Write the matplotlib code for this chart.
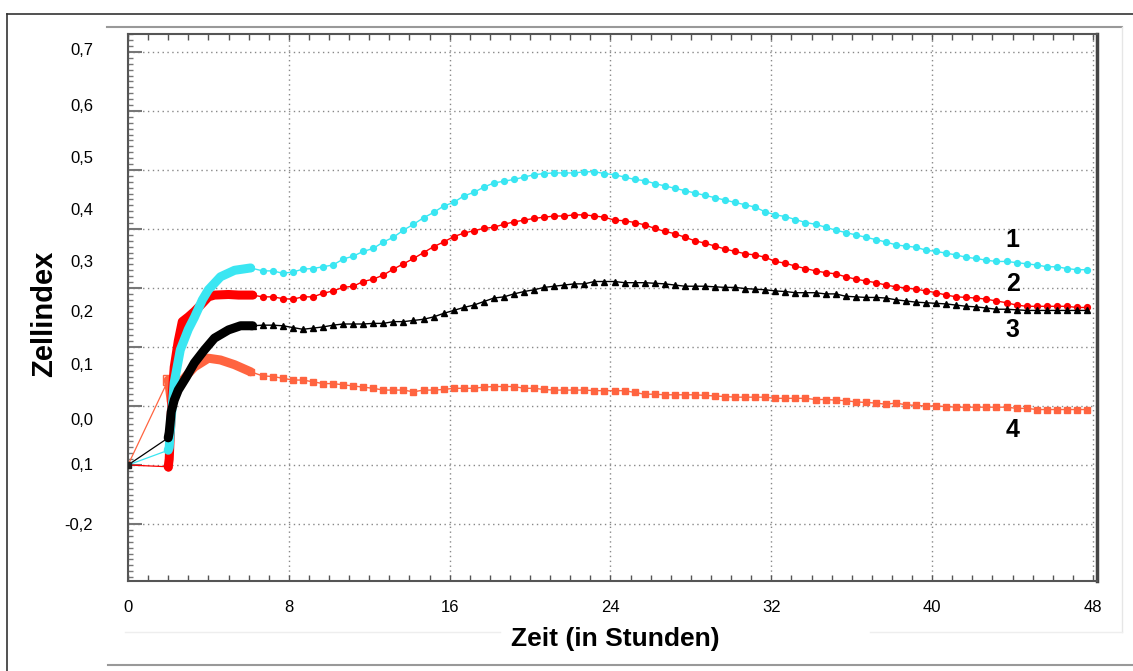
import numpy as np
import matplotlib.pyplot as plt
from matplotlib.lines import Line2D
from matplotlib.ticker import MultipleLocator

plt.rcParams['font.family'] = ['Liberation Sans', 'DejaVu Sans']

# Messpunkte t=0 und t=2 h (vor dem Zugeben)
start_t = [0.0, 2.0]
start_1 = [-0.100, -0.075]
start_2 = [-0.100, -0.103]
start_3 = [-0.100, -0.054]
start_4 = [-0.100, 0.044]

# dichte Messung direkt nach dem Zugeben (2 - 6 h)
dense_t_1 = [2.05, 2.15, 2.3, 2.6, 3.0, 3.3, 3.7, 4.0, 4.6, 5.3, 6.1]
dense_1 = [-0.070, -0.020, 0.040, 0.095, 0.130, 0.150, 0.180, 0.197, 0.219, 0.230, 0.234]
dense_t_2 = [2.05, 2.1, 2.2, 2.3, 2.5, 2.7, 3.0, 3.3, 3.7, 4.0, 4.3, 5.0, 5.5, 6.2]
dense_2 = [-0.090, -0.050, 0.020, 0.066, 0.110, 0.143, 0.151, 0.160, 0.174, 0.185, 0.188, 0.189, 0.188, 0.188]
dense_t_3 = [2.05, 2.15, 2.3, 2.5, 2.9, 3.3, 3.8, 4.3, 5.0, 5.6, 6.2]
dense_3 = [-0.045, -0.010, 0.010, 0.027, 0.049, 0.073, 0.095, 0.115, 0.129, 0.136, 0.136]
dense_t_4 = [2.05, 2.15, 2.3, 2.6, 3.0, 3.3, 4.0, 4.6, 5.3, 6.1]
dense_4 = [0.035, 0.008, 0.020, 0.039, 0.055, 0.066, 0.081, 0.078, 0.070, 0.058]

# Messung alle 30 min (6.7 - 47.7 h)
hours = np.arange(6.7, 47.75, 0.5)
zi_1 = [0.229, 0.229, 0.225, 0.227, 0.232, 0.233, 0.236, 0.239, 0.249, 0.254,
        0.262, 0.267, 0.278, 0.286, 0.298, 0.308, 0.319, 0.328, 0.339, 0.345,
        0.356, 0.362, 0.371, 0.378, 0.381, 0.384, 0.388, 0.392, 0.394, 0.395,
        0.395, 0.395, 0.397, 0.397, 0.394, 0.392, 0.388, 0.384, 0.382, 0.377,
        0.373, 0.369, 0.365, 0.361, 0.357, 0.353, 0.349, 0.345, 0.341, 0.337,
        0.329, 0.324, 0.321, 0.316, 0.311, 0.308, 0.303, 0.298, 0.294, 0.290,
        0.286, 0.282, 0.278, 0.273, 0.271, 0.269, 0.264, 0.262, 0.259, 0.256,
        0.252, 0.250, 0.247, 0.245, 0.245, 0.243, 0.241, 0.239, 0.236, 0.236,
        0.233, 0.231, 0.231]
zi_2 = [0.185, 0.185, 0.182, 0.181, 0.185, 0.185, 0.191, 0.195, 0.201, 0.203,
        0.211, 0.215, 0.222, 0.232, 0.241, 0.250, 0.260, 0.270, 0.278, 0.287,
        0.293, 0.297, 0.301, 0.303, 0.308, 0.312, 0.315, 0.318, 0.320, 0.322,
        0.322, 0.324, 0.324, 0.322, 0.320, 0.315, 0.314, 0.311, 0.307, 0.301,
        0.296, 0.292, 0.286, 0.280, 0.276, 0.271, 0.266, 0.262, 0.258, 0.256,
        0.252, 0.245, 0.242, 0.237, 0.233, 0.229, 0.226, 0.224, 0.219, 0.215,
        0.212, 0.209, 0.205, 0.202, 0.200, 0.198, 0.195, 0.192, 0.188, 0.185,
        0.184, 0.183, 0.181, 0.178, 0.175, 0.171, 0.169, 0.169, 0.169, 0.169,
        0.169, 0.167, 0.167]
zi_3 = [0.137, 0.137, 0.136, 0.133, 0.130, 0.132, 0.134, 0.137, 0.139, 0.139,
        0.139, 0.140, 0.140, 0.143, 0.143, 0.145, 0.147, 0.151, 0.157, 0.162,
        0.167, 0.171, 0.177, 0.183, 0.185, 0.190, 0.194, 0.197, 0.201, 0.203,
        0.205, 0.207, 0.207, 0.211, 0.211, 0.211, 0.209, 0.209, 0.209, 0.208,
        0.207, 0.205, 0.203, 0.203, 0.203, 0.202, 0.201, 0.201, 0.199, 0.198,
        0.197, 0.195, 0.194, 0.192, 0.192, 0.192, 0.190, 0.190, 0.186, 0.185,
        0.184, 0.184, 0.183, 0.180, 0.178, 0.176, 0.175, 0.174, 0.173, 0.171,
        0.169, 0.168, 0.166, 0.164, 0.164, 0.163, 0.162, 0.162, 0.162, 0.162,
        0.162, 0.162, 0.162]
zi_4 = [0.051, 0.050, 0.047, 0.044, 0.044, 0.041, 0.038, 0.038, 0.036, 0.034,
        0.032, 0.030, 0.027, 0.027, 0.027, 0.024, 0.027, 0.027, 0.028, 0.030,
        0.030, 0.030, 0.032, 0.033, 0.033, 0.033, 0.030, 0.030, 0.028, 0.027,
        0.027, 0.027, 0.027, 0.026, 0.026, 0.026, 0.026, 0.023, 0.020, 0.020,
        0.019, 0.019, 0.019, 0.019, 0.018, 0.017, 0.016, 0.015, 0.015, 0.015,
        0.015, 0.013, 0.013, 0.013, 0.013, 0.011, 0.011, 0.010, 0.009, 0.007,
        0.006, 0.005, 0.003, 0.005, 0.002, 0.001, 0.000, 0.000, -0.001, -0.002,
        -0.002, -0.002, -0.002, -0.002, -0.002, -0.004, -0.004, -0.006, -0.006, -0.006,
        -0.006, -0.006, -0.006]

# Beschriftungen der y-Achse, wie sie im Original stehen
ytick_text = ['0,7', '0,6', '0,5', '0,4', '0,3', '0,2', '0,1', '0,0', '0,1', '-0,2']
ytick_pos = [0.602, 0.507, 0.420, 0.332, 0.244, 0.159, 0.068, -0.024, -0.100, -0.202]
xticks = [0, 8, 16, 24, 32, 40, 48]
curve_names = ['1', '2', '3', '4']
name_pos = [0.281, 0.207, 0.129, -0.041]

series = [
    (start_4, dense_t_4, dense_4, zi_4, '#ff6440', 's', 5.0),
    (start_2, dense_t_2, dense_2, zi_2, '#ff0000', 'o', 4.2),
    (start_1, dense_t_1, dense_1, zi_1, '#3ae6f2', 'o', 4.2),
    (start_3, dense_t_3, dense_3, zi_3, '#000000', '^', 5.0),
]

fig = plt.figure(figsize=(11.33, 6.71), dpi=100)
ax = fig.add_axes([128 / 1133, 1 - 581 / 671, 969 / 1133, 547 / 671])

for start, dt, dv, zi, col, mk, ms in series:
    ax.plot(start_t, start, color=col, lw=0.9, zorder=3)
    ax.plot(start_t[1], start[1], marker=mk, ms=7 if mk == 's' else 5,
            mfc='none', mec=col, mew=1, zorder=3)
    ax.plot([start_t[1]] + dt, [start[1]] + dv, color=col, lw=6.5,
            solid_capstyle='round', solid_joinstyle='round', zorder=4)
    ax.plot(np.concatenate([[dt[-1]], hours]), [dv[-1]] + zi, color=col, lw=1.0,
            marker=mk, ms=ms, mec=col, mfc=col, zorder=4)

ax.plot(0, -0.1, 's', color='#222222', ms=4, zorder=5)

ax.set_xlim(0, 48.2)
ax.set_ylim(-0.2966, 0.6305)
ax.set_xticks(xticks)
ax.xaxis.set_minor_locator(MultipleLocator(1))
ax.yaxis.set_major_locator(MultipleLocator(0.1))
ax.yaxis.set_minor_locator(MultipleLocator(0.01))
ax.tick_params(axis='x', which='both', direction='in', length=4, width=1,
               color='#555555', top=True, labelsize=12, pad=14)
ax.tick_params(axis='y', which='major', direction='in', length=10, width=1.5,
               color='#777777', labelleft=False)
ax.tick_params(axis='y', which='minor', direction='in', length=3.5, width=1,
               color='#777777')
ax.grid(which='major', color='#888888', linestyle=(0, (1, 2.5)), lw=1)

for side in ['left', 'bottom', 'top']:
    ax.spines[side].set_color('#555555')
    ax.spines[side].set_linewidth(1.5)
ax.spines['right'].set_color('#444444')
ax.spines['right'].set_linewidth(2.5)

trans = ax.get_yaxis_transform()
for txt, y in zip(ytick_text, ytick_pos):
    ax.text(-0.036, y, txt, transform=trans, ha='right', va='center', fontsize=12)

for txt, y in zip(curve_names, name_pos):
    ax.text(0.913, y, txt, transform=trans, ha='center', va='center',
            fontsize=18, fontweight='bold')

ax.set_xlabel('Zeit (in Stunden)', fontsize=19, fontweight='bold')
ax.xaxis.set_label_coords(0.503, -0.084)
ax.set_ylabel('Zellindex', fontsize=21, fontweight='bold')
ax.yaxis.set_label_coords(-0.072, 0.488)

# Rahmen der eingefügten Abbildung
def fig_line(x, y, col, lw):
    fig.add_artist(Line2D([v / 1133 for v in x], [1 - v / 671 for v in y],
                          color=col, lw=lw, transform=fig.transFigure))

fig_line([7, 1133], [14, 14], '#333333', 1.2)
fig_line([7, 7], [14, 671], '#333333', 1.2)
fig_line([107, 1122], [27, 27], '#999999', 1.5)
fig_line([1122, 1122], [27, 632], '#e6e6e6', 1.0)
fig_line([125, 500], [632, 632], '#eeeeee', 1.0)
fig_line([870, 1122], [632, 632], '#eeeeee', 1.0)
fig_line([108, 1133], [665, 665], '#999999', 1.5)

fig.savefig('out.png', dpi=100)
